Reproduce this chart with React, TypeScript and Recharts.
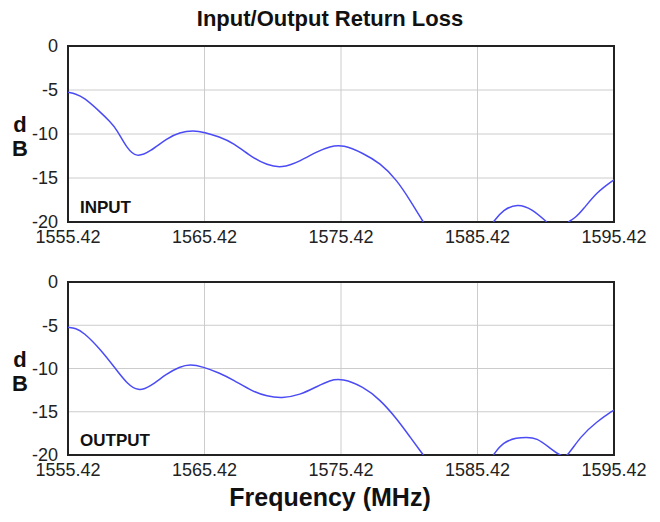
import React from 'react';
import { LineChart, Line, XAxis, YAxis, CartesianGrid, ReferenceArea, Label } from 'recharts';

const freqTicks = [1555.42, 1565.42, 1575.42, 1585.42, 1595.42];
const dbTicks = [-20, -15, -10, -5, 0];

const inputFreq = [
  1555.42, 1556.0, 1556.54, 1557.76, 1558.5, 1559.0, 1559.72, 1560.45, 1561.43, 1562.65, 1563.6, 1564.6,
  1565.42, 1566.5, 1567.53, 1569.0, 1569.98, 1571.07, 1572.42, 1573.64, 1574.6, 1575.57, 1577.05, 1578.28,
  1579.5, 1580.47, 1581.45, 1584.0, 1586.58, 1587.3, 1588.36, 1589.4, 1590.49, 1591.3, 1592.07, 1592.6,
  1593.15, 1594.15, 1595.42,
];
const inputDb = [
  -5.26, -5.45, -5.8, -7.46, -8.6, -9.5, -11.6, -12.7, -12.0, -10.5, -9.8, -9.6,
  -9.8, -10.3, -11.0, -12.77, -13.5, -13.9, -13.1, -12.0, -11.4, -11.2, -12.2, -13.3,
  -15.2, -17.5, -20, null, -20, -18.6, -17.9, -18.5, -20, null, -20, -19.5,
  -18.6, -16.6, -15.2,
];

const outputFreq = [
  1555.42, 1556.0, 1556.54, 1557.76, 1558.99, 1559.72, 1560.57, 1561.43, 1562.65, 1563.6, 1564.36, 1565.31,
  1566.5, 1567.51, 1569.0, 1569.98, 1571.07, 1572.42, 1573.64, 1574.6, 1575.5, 1577.05, 1578.28, 1579.5,
  1580.47, 1581.45, 1584.0, 1586.58, 1587.3, 1588.3, 1589.0, 1589.75, 1590.73, 1591.6, 1592.0, 1592.93,
  1594.15, 1595.42,
];
const outputDb = [
  -5.24, -5.35, -5.8, -7.7, -10.2, -11.7, -12.66, -12.1, -10.6, -9.8, -9.5, -9.8,
  -10.5, -11.3, -12.7, -13.2, -13.45, -13.06, -12.1, -11.35, -11.15, -12.1, -13.6, -15.8,
  -17.9, -20, null, -20, -18.5, -18.0, -17.95, -18.0, -19.2, -20.2, -20.2, -17.9,
  -16.15, -14.8,
];

const font = '"Liberation Sans", Arial, sans-serif';

// stacked "d" over "B" left of the y ticks
const DbLabel = ({ viewBox }: any) => {
  const cy = viewBox.y + viewBox.height / 2;
  return (
    <text x={20} y={cy} textAnchor="middle" fontFamily={font} fontWeight="bold" fontSize={22} fill="#111">
      <tspan x={20} dy={-2}>d</tspan>
      <tspan x={20} dy={24}>B</tspan>
    </text>
  );
};

interface PanelProps {
  freq: number[];
  db: (number | null)[];
  top: number;
  height: number;
  plotTop: number;
  name: string;
}

const Panel: React.FC<PanelProps> = ({ freq, db, top, height, plotTop, name }) => {
  const data = freq.map((f, i) => ({ f, db: db[i] }));
  const plotBottom = height - 28;
  return (
    <div style={{ position: 'absolute', left: 0, top }}>
      <LineChart width={660} height={height} data={data} margin={{ top: plotTop, right: 46, left: 28, bottom: 0 }}>
        <CartesianGrid stroke="#cccccc" />
        <XAxis
          dataKey="f"
          type="number"
          domain={[1555.42, 1595.42]}
          ticks={freqTicks}
          tickFormatter={(v: number) => v.toFixed(2)}
          axisLine={false}
          tickLine={false}
          height={28}
          tick={{ fill: '#222', fontSize: 18, fontFamily: font }}
          tickMargin={2}
          allowDataOverflow
        />
        <YAxis
          type="number"
          domain={[-20, 0]}
          ticks={dbTicks}
          axisLine={false}
          tickLine={false}
          width={40}
          tick={{ fill: '#222', fontSize: 18, fontFamily: font }}
          tickMargin={4}
          allowDataOverflow
        >
          <Label content={DbLabel} />
        </YAxis>
        <ReferenceArea x1={1555.42} x2={1595.42} y1={-20} y2={0} stroke="#222" strokeWidth={2} fill="none" fillOpacity={0} />
        <Line
          dataKey="db"
          type="basis"
          stroke="#4b4bf5"
          strokeWidth={1.5}
          dot={false}
          connectNulls={false}
          isAnimationActive={false}
        />
      </LineChart>
      <div
        style={{
          position: 'absolute',
          left: 80,
          top: plotBottom - 24,
          fontFamily: font,
          fontWeight: 'bold',
          fontSize: 17,
          color: '#111',
        }}
      >
        {name}
      </div>
    </div>
  );
};

export default function App() {
  return (
    <div style={{ position: 'absolute', left: 0, top: 0, width: 660, height: 522, background: '#fff' }}>
      <div
        style={{
          position: 'absolute',
          left: 0,
          width: 660,
          top: 6,
          textAlign: 'center',
          fontFamily: font,
          fontWeight: 'bold',
          fontSize: 22,
          color: '#111',
        }}
      >
        Input/Output Return Loss
      </div>
      <Panel freq={inputFreq} db={inputDb} top={0} height={250} plotTop={46} name="INPUT" />
      <Panel freq={outputFreq} db={outputDb} top={250} height={233} plotTop={32} name="OUTPUT" />
      <div
        style={{
          position: 'absolute',
          left: 0,
          width: 660,
          top: 483,
          textAlign: 'center',
          fontFamily: font,
          fontWeight: 'bold',
          fontSize: 25,
          color: '#111',
        }}
      >
        Frequency (MHz)
      </div>
    </div>
  );
}
